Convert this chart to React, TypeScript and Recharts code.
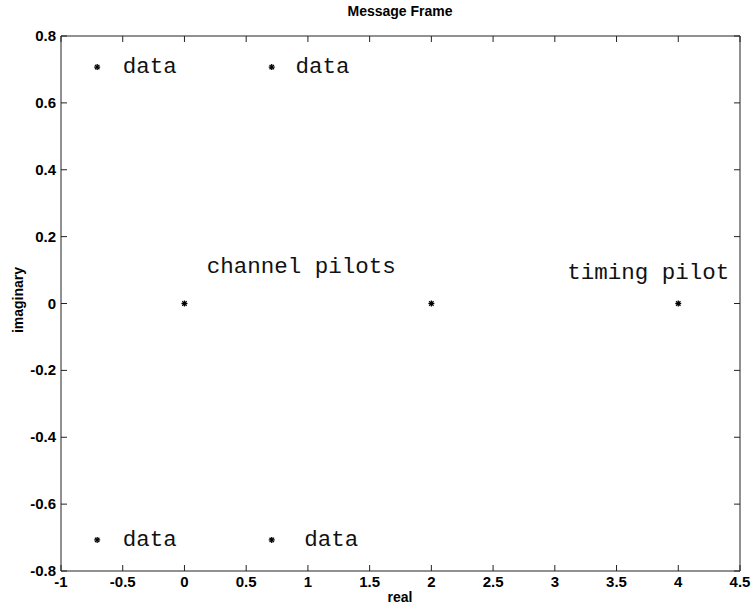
import { ScatterChart, Scatter, XAxis, YAxis } from 'recharts';

const xTicks = [-1, -0.5, 0, 0.5, 1, 1.5, 2, 2.5, 3, 3.5, 4, 4.5];
const yTicks = [-0.8, -0.6, -0.4, -0.2, 0, 0.2, 0.4, 0.6, 0.8];

// constellation points
const pointReal = [-0.707, 0.707, -0.707, 0.707, 0, 2, 4];
const pointImag = [0.707, 0.707, -0.707, -0.707, 0, 0, 0];

// text annotations (left edge of text, vertical middle)
const labelText = ['data', 'data', 'data', 'data', 'channel pilots', 'timing pilot'];
const labelReal = [-0.5, 0.9, -0.5, 0.97, 0.18, 3.1];
const labelImag = [0.707, 0.707, -0.707, -0.707, 0.108, 0.09];

const points = pointReal.map((re, i) => ({ re, im: pointImag[i] }));
const labels = labelText.map((text, i) => ({ re: labelReal[i], im: labelImag[i], text }));

const tickFont = "'Liberation Sans', Arial, sans-serif";

const BottomTick = (props: any) => {
  const { x, y, payload } = props;
  return (
    <g>
      <line x1={x} y1={y} x2={x} y2={y - 6} stroke="#222" />
      <text x={x} y={y + 16} textAnchor="middle" fontSize={15} fontWeight="bold" fontFamily={tickFont} fill="#000">
        {payload.value}
      </text>
    </g>
  );
};

const LeftTick = (props: any) => {
  const { x, y, payload } = props;
  return (
    <g>
      <line x1={x} y1={y} x2={x + 6} y2={y} stroke="#222" />
      <text x={x - 5} y={y + 5} textAnchor="end" fontSize={15} fontWeight="bold" fontFamily={tickFont} fill="#000">
        {payload.value}
      </text>
    </g>
  );
};

const TopTick = (props: any) => {
  const { x, y } = props;
  return <line x1={x} y1={y} x2={x} y2={y + 6} stroke="#222" />;
};

const RightTick = (props: any) => {
  const { x, y } = props;
  return <line x1={x} y1={y} x2={x - 6} y2={y} stroke="#222" />;
};

const Star = (props: any) => {
  const { cx, cy } = props;
  const r = 3;
  const d = 2.2;
  return (
    <g stroke="#000" strokeWidth={1.3}>
      <line x1={cx - r} y1={cy} x2={cx + r} y2={cy} />
      <line x1={cx} y1={cy - r} x2={cx} y2={cy + r} />
      <line x1={cx - d} y1={cy - d} x2={cx + d} y2={cy + d} />
      <line x1={cx - d} y1={cy + d} x2={cx + d} y2={cy - d} />
    </g>
  );
};

const Note = (props: any) => {
  const { cx, cy, payload } = props;
  return (
    <text x={cx} y={cy} dominantBaseline="central" fontSize={22.5} fontFamily="'Liberation Mono', 'Courier New', monospace" fill="#111">
      {payload.text}
    </text>
  );
};

export default function App() {
  return (
    <div style={{ position: 'absolute', left: 0, top: 0, width: 753, height: 609, background: '#fff' }}>
      <div style={{ position: 'absolute', left: 300, top: 3, width: 200, textAlign: 'center', fontFamily: tickFont, fontWeight: 'bold', fontSize: 14 }}>
        Message Frame
      </div>
      <div style={{ position: 'absolute', left: 350, top: 589, width: 100, textAlign: 'center', fontFamily: tickFont, fontWeight: 'bold', fontSize: 14 }}>
        real
      </div>
      <div style={{ position: 'absolute', left: -32, top: 292, width: 100, textAlign: 'center', fontFamily: tickFont, fontWeight: 'bold', fontSize: 14, transform: 'rotate(-90deg)' }}>
        imaginary
      </div>
      <ScatterChart width={753} height={609} margin={{ top: 35, right: 12, bottom: 8, left: 21 }}>
        <XAxis xAxisId="b" type="number" dataKey="re" domain={[-1, 4.5]} ticks={xTicks} interval={0} height={30}
          tickSize={0} tickMargin={0} tick={<BottomTick />} axisLine={{ stroke: '#222' }} allowDataOverflow />
        <XAxis xAxisId="t" orientation="top" type="number" dataKey="re" domain={[-1, 4.5]} ticks={xTicks} interval={0} height={1}
          tickSize={0} tickMargin={0} tick={<TopTick />} axisLine={{ stroke: '#222' }} allowDataOverflow />
        <YAxis yAxisId="l" type="number" dataKey="im" domain={[-0.8, 0.8]} ticks={yTicks} interval={0} width={40}
          tickSize={0} tickMargin={0} tick={<LeftTick />} axisLine={{ stroke: '#222' }} allowDataOverflow />
        <YAxis yAxisId="r" orientation="right" type="number" dataKey="im" domain={[-0.8, 0.8]} ticks={yTicks} interval={0} width={1}
          tickSize={0} tickMargin={0} tick={<RightTick />} axisLine={{ stroke: '#222' }} allowDataOverflow />
        <Scatter xAxisId="b" yAxisId="l" data={points} shape={<Star />} isAnimationActive={false} />
        <Scatter xAxisId="b" yAxisId="l" data={labels} shape={<Note />} isAnimationActive={false} />
      </ScatterChart>
    </div>
  );
}
